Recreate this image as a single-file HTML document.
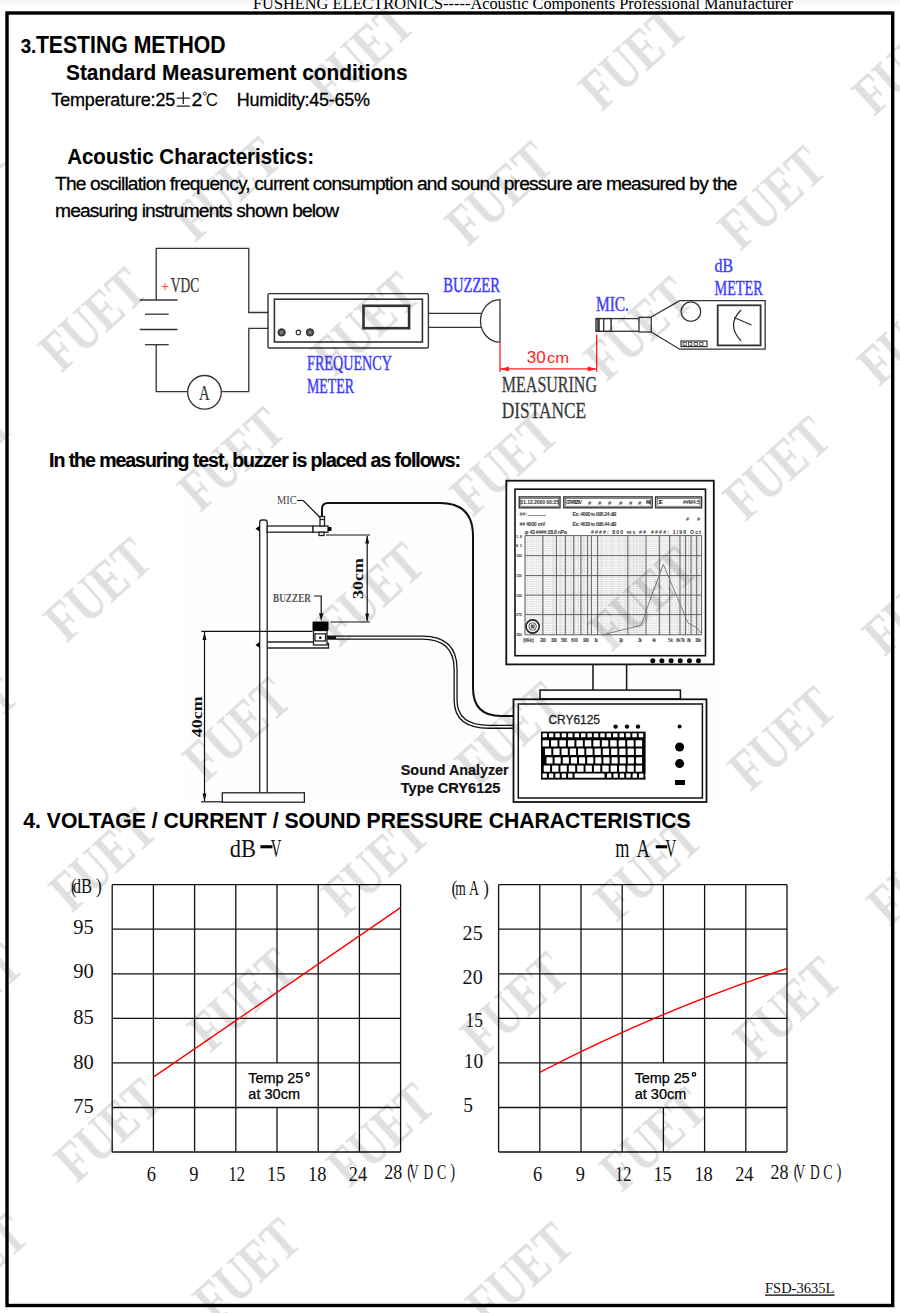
<!DOCTYPE html>
<html><head><meta charset="utf-8"><style>
html,body{margin:0;padding:0;background:#fff;width:900px;height:1313px;overflow:hidden}
svg{display:block}
</style></head><body>
<svg width="900" height="1313" viewBox="0 0 900 1313">
<rect x="0" y="0" width="900" height="1313" fill="#fff"/>
<rect x="0" y="0" width="900" height="4.5" fill="#f6f6f6"/>
<text x="253.0" y="9.2" font-family="'Liberation Serif', serif" font-size="16.5" textLength="540.0" lengthAdjust="spacingAndGlyphs" fill="#000" >FUSHENG ELECTRONICS-----Acoustic Components Professional Manufacturer</text>
<rect x="7" y="13" width="885.7" height="1292.5" fill="none" stroke="#000" stroke-width="3.4"/>
<text x="20.7" y="53.0" font-family="'Liberation Sans', sans-serif" font-size="19.5" font-weight="bold" textLength="15.6" lengthAdjust="spacingAndGlyphs" fill="#000"  stroke="#000" stroke-width="0.15">3.</text>
<text x="35.9" y="53.0" font-family="'Liberation Sans', sans-serif" font-size="23" font-weight="bold" textLength="189.6" lengthAdjust="spacingAndGlyphs" fill="#000"  stroke="#000" stroke-width="0.1">TESTING METHOD</text>
<text x="66.0" y="79.7" font-family="'Liberation Sans', sans-serif" font-size="22" font-weight="bold" textLength="341.5" lengthAdjust="spacingAndGlyphs" fill="#000"  stroke="#000" stroke-width="0.1">Standard Measurement conditions</text>
<text x="51.3" y="106.3" font-family="'Liberation Sans', sans-serif" font-size="18" textLength="124.0" lengthAdjust="spacing" fill="#000"  stroke="#000" stroke-width="0.3">Temperature:25</text>
<path d="M183.3,91.8 V104 M176.8,98.2 H189.8 M176.8,106.2 H189.8" stroke="#222" stroke-width="1.3" fill="none"/>
<text x="191.6" y="106.3" font-family="'Liberation Sans', sans-serif" font-size="18" textLength="10.8" lengthAdjust="spacingAndGlyphs" fill="#000"  stroke="#000" stroke-width="0.3">2</text>
<circle cx="204.8" cy="93.6" r="1.5" fill="none" stroke="#333" stroke-width="0.9"/>
<text x="205.8" y="106.3" font-family="'Liberation Sans', sans-serif" font-size="17.5" textLength="12.2" lengthAdjust="spacingAndGlyphs" fill="#111" >C</text>
<text x="236.8" y="106.3" font-family="'Liberation Sans', sans-serif" font-size="18" textLength="133.2" lengthAdjust="spacing" fill="#000"  stroke="#000" stroke-width="0.3">Humidity:45-65%</text>
<text x="67.2" y="164.0" font-family="'Liberation Sans', sans-serif" font-size="22" font-weight="bold" textLength="247.0" lengthAdjust="spacingAndGlyphs" fill="#000"  stroke="#000" stroke-width="0.1">Acoustic Characteristics:</text>
<text x="55.0" y="190.3" font-family="'Liberation Sans', sans-serif" font-size="19.2" textLength="682.5" lengthAdjust="spacing" fill="#000"  stroke="#000" stroke-width="0.3">The oscillation frequency, current consumption and sound pressure are measured by the</text>
<text x="55.0" y="217.0" font-family="'Liberation Sans', sans-serif" font-size="19.2" textLength="284.0" lengthAdjust="spacing" fill="#000"  stroke="#000" stroke-width="0.3">measuring instruments shown below</text>
<text x="49.0" y="467.3" font-family="'Liberation Sans', sans-serif" font-size="19.5" font-weight="bold" textLength="412.0" lengthAdjust="spacing" fill="#000"  stroke="#000" stroke-width="0.2">In the measuring test, buzzer is placed as follows:</text>
<text x="23.3" y="828.0" font-family="'Liberation Sans', sans-serif" font-size="22" font-weight="bold" textLength="667.4" lengthAdjust="spacingAndGlyphs" fill="#000"  stroke="#000" stroke-width="0.1">4. VOLTAGE / CURRENT / SOUND PRESSURE CHARACTERISTICS</text>
<g stroke="#333" stroke-width="1.3" fill="none">
<polyline points="156.2,300 156.2,248.3 248.8,248.3 248.8,312.5 268.3,312.5"/>
<polyline points="268.3,328.3 248.8,328.3 248.8,391.7 221.3,391.7"/>
<polyline points="187.8,391.7 156.2,391.7 156.2,344.7"/>
<circle cx="204.5" cy="392.3" r="16.8"/>
<line x1="139.7" y1="300" x2="177.5" y2="300"/>
<line x1="145" y1="314.2" x2="168.7" y2="314.2"/>
<line x1="139.7" y1="329.5" x2="177.5" y2="329.5"/>
<line x1="145" y1="344.7" x2="168.7" y2="344.7"/>
</g>
<text x="160.8" y="290.5" font-family="'Liberation Serif', serif" font-size="15" textLength="8.5" lengthAdjust="spacingAndGlyphs" fill="#f22" >+</text>
<text x="170.8" y="291.7" font-family="'Liberation Serif', serif" font-size="21" textLength="28.4" lengthAdjust="spacingAndGlyphs" fill="#333"  stroke="#333" stroke-width="0.25">VDC</text>
<text x="199.0" y="400.0" font-family="'Liberation Serif', serif" font-size="22" textLength="10.7" lengthAdjust="spacingAndGlyphs" fill="#333"  stroke="#333" stroke-width="0.2">A</text>
<g stroke="#333" fill="none">
<rect x="268" y="293.6" width="160.4" height="54.4" rx="1.5" stroke-width="1.4"/>
<rect x="274.4" y="299.2" width="148" height="42.8" stroke-width="1.6"/>
<rect x="363.5" y="305.8" width="45.6" height="22.4" stroke-width="2.6"/>
<circle cx="281.6" cy="332.4" r="3.7" fill="#444" stroke-width="1"/>
<circle cx="298.4" cy="332.4" r="2.2" stroke-width="1.2"/>
<circle cx="310" cy="332.4" r="3.7" fill="#444" stroke-width="1"/>
<path d="M280,330.8 l3.2,3.2 M283.2,330.8 l-3.2,3.2 M308.4,330.8 l3.2,3.2 M311.6,330.8 l-3.2,3.2" stroke="#bbb" stroke-width="0.8"/>
</g>
<text x="307.0" y="370.2" font-family="'Liberation Serif', serif" font-size="22" textLength="85.0" lengthAdjust="spacingAndGlyphs" fill="#3c3cff"  stroke="#3c3cff" stroke-width="0.45">FREQUENCY</text>
<text x="307.0" y="392.6" font-family="'Liberation Serif', serif" font-size="21" textLength="47.0" lengthAdjust="spacingAndGlyphs" fill="#3c3cff"  stroke="#3c3cff" stroke-width="0.45">METER</text>
<g stroke="#333" stroke-width="1.3" fill="none">
<line x1="428.4" y1="313.3" x2="481.1" y2="313.3"/>
<line x1="428.4" y1="327.3" x2="481.1" y2="327.3"/>
<path d="M500,299.6 A19.5,21.3 0 0 0 500,342.2 Z"/>
</g>
<text x="443.3" y="291.8" font-family="'Liberation Serif', serif" font-size="20.5" textLength="56.7" lengthAdjust="spacingAndGlyphs" fill="#3c3cff"  stroke="#3c3cff" stroke-width="0.45">BUZZER</text>
<g stroke="#f22" stroke-width="1.3" fill="none">
<line x1="500" y1="342" x2="500" y2="372"/>
<line x1="596.7" y1="334.4" x2="596.7" y2="372"/>
<line x1="500" y1="368.9" x2="596.7" y2="368.9"/>
</g>
<path d="M500,368.9 l9,-2.5 l0,5 z M596.7,368.9 l-9,-2.5 l0,5 z" fill="#f22"/>
<text x="526.7" y="363.3" font-family="'Liberation Sans', sans-serif" font-size="17" textLength="19.0" lengthAdjust="spacingAndGlyphs" fill="#f22" >30</text>
<text x="547.0" y="363.3" font-family="'Liberation Sans', sans-serif" font-size="14" textLength="22.3" lengthAdjust="spacingAndGlyphs" fill="#f22" >cm</text>
<text x="501.8" y="392.3" font-family="'Liberation Serif', serif" font-size="22.5" textLength="95.2" lengthAdjust="spacingAndGlyphs" fill="#3a3a3a"  stroke="#3a3a3a" stroke-width="0.3">MEASURING</text>
<text x="501.8" y="418.3" font-family="'Liberation Serif', serif" font-size="22.5" textLength="84.4" lengthAdjust="spacingAndGlyphs" fill="#3a3a3a"  stroke="#3a3a3a" stroke-width="0.3">DISTANCE</text>
<g stroke="#333" stroke-width="1.3" fill="none">
<rect x="596" y="318.6" width="15.1" height="12.7" stroke-width="1.5"/>
<line x1="603.7" y1="318.6" x2="603.7" y2="331.3"/>
<line x1="598.5" y1="318.6" x2="598.5" y2="331.3" stroke-width="2.5"/>
<line x1="611" y1="318.6" x2="639" y2="318.6"/>
<line x1="611" y1="331.3" x2="639" y2="331.3"/>
<rect x="639" y="317.3" width="12.2" height="14.7"/>
<path d="M651.2,317 L679.7,300.7 L765.2,300.7 L765.2,349.2 L679.7,349.2 L651.2,332"/>
<circle cx="690.9" cy="311.6" r="9.8"/>
<rect x="717.7" y="305.3" width="42.9" height="40.1" stroke-width="1.8"/>
<path d="M741,310 Q726,325 741,340.8"/>
<line x1="734" y1="317.5" x2="751.5" y2="325"/>
<rect x="681" y="341" width="26" height="5.6" stroke-width="1.2"/>
</g>
<g fill="#333">
<rect x="683.0" y="342.5" width="3.2" height="2.8" fill="#fff" stroke="#333" stroke-width="0.8"/>
<rect x="688.6" y="342.5" width="3.2" height="2.8" fill="#fff" stroke="#333" stroke-width="0.8"/>
<rect x="694.2" y="342.5" width="3.2" height="2.8" fill="#fff" stroke="#333" stroke-width="0.8"/>
<rect x="699.8" y="342.5" width="3.2" height="2.8" fill="#fff" stroke="#333" stroke-width="0.8"/>
</g>
<text x="595.9" y="310.8" font-family="'Liberation Serif', serif" font-size="20.5" textLength="33.1" lengthAdjust="spacingAndGlyphs" fill="#3c3cff"  stroke="#3c3cff" stroke-width="0.4">MIC.</text>
<text x="714.5" y="272.2" font-family="'Liberation Serif', serif" font-size="18.5" textLength="18.6" lengthAdjust="spacingAndGlyphs" fill="#3c3cff"  stroke="#3c3cff" stroke-width="0.4">dB</text>
<text x="714.5" y="295.4" font-family="'Liberation Serif', serif" font-size="20.5" textLength="48.2" lengthAdjust="spacingAndGlyphs" fill="#3c3cff"  stroke="#3c3cff" stroke-width="0.4">METER</text>
<rect x="182" y="478" width="538" height="328" fill="#fefefe"/>
<path d="M322,517 L322,509 Q322,503 328,503 L440,503 Q473,503 473,536 L473,688 Q473,716 501,716 L514,716" stroke="#111" stroke-width="2" fill="none"/>
<path d="M327,637.6 L422,637.6 Q455.6,637.6 455.6,669 L455.6,700 Q455.6,726.8 489,726.8 L514,726.8" stroke="#111" stroke-width="4.2" fill="none"/>
<path d="M336,637.6 L422,637.6 Q455.6,637.6 455.6,669 L455.6,700 Q455.6,726.8 489,726.8 L514,726.8" stroke="#fff" stroke-width="1.6" fill="none"/>
<g stroke="#222" stroke-width="1.3" fill="#fff">
<path d="M259.7,792.8 L259.7,522.5 Q259.7,520 262,520 L264.8,520 Q267.2,520 267.2,522.5 L267.2,792.8"/>
<rect x="222.3" y="792.8" width="82.1" height="9.4"/>
<rect x="267.2" y="526" width="45.8" height="6.2"/>
<rect x="313" y="526" width="15" height="6.2"/>
<rect x="320" y="516.5" width="4.5" height="9.5"/>
<line x1="320" y1="519.5" x2="324.5" y2="519.5"/>
<rect x="319" y="532.2" width="5" height="3.3"/>
<path d="M267.2,642 L313.5,642 M267.2,648 L328.5,648 L328.5,643.5 L313.5,643.5"/>
<rect x="313.5" y="630.5" width="13.5" height="14.5"/>
<rect x="315" y="633.8" width="10.5" height="7.2"/>
</g>
<rect x="312.5" y="621.5" width="16" height="9.2" rx="1" fill="#000"/>
<circle cx="320.3" cy="637.8" r="1.3" fill="#000"/>
<rect x="328" y="527" width="3.5" height="4" fill="#000"/>
<path d="M255.5,528.8 L259.7,525.8 L259.7,531.8 Z M255.5,645 L259.7,642 L259.7,648 Z" fill="#000"/>
<g stroke="#111" stroke-width="1.2" fill="none">
<line x1="326" y1="535" x2="370" y2="535"/>
<line x1="330.5" y1="622" x2="370" y2="622"/>
<line x1="367.2" y1="536" x2="367.2" y2="621"/>
<line x1="201.3" y1="631.4" x2="312.5" y2="631.4"/>
<line x1="201.3" y1="801.8" x2="222.3" y2="801.8"/>
<line x1="204.5" y1="632" x2="204.5" y2="801"/>
<polyline points="297,500.5 303.3,500.5 320,517.5"/>
<polyline points="314,596 321.2,596 321.2,614"/>
</g>
<path d="M367.2,535.5 l-2,8 l4,0 z M367.2,621.5 l-2,-8 l4,0 z M204.5,632 l-2,8 l4,0 z M204.5,801.5 l-2,-8 l4,0 z M321.2,621.3 l-2.2,-8 l4.4,0 z" fill="#111"/>
<text x="277" y="504.4" font-family="'Liberation Serif', serif" font-size="12" textLength="19.7" lengthAdjust="spacingAndGlyphs" fill="#444">MIC</text>
<text x="273" y="601.5" font-family="'Liberation Serif', serif" font-size="12.5" font-weight="bold" textLength="38" lengthAdjust="spacingAndGlyphs" fill="#555">BUZZER</text>
<text transform="translate(363.3,598.9) rotate(-90)" x="0" y="0" font-family="'Liberation Serif', serif" font-size="15" font-weight="bold" textLength="41" lengthAdjust="spacingAndGlyphs" fill="#111">30cm</text>
<text transform="translate(201.7,737.3) rotate(-90)" x="0" y="0" font-family="'Liberation Serif', serif" font-size="15" font-weight="bold" textLength="41" lengthAdjust="spacingAndGlyphs" fill="#111">40cm</text>
<text x="400.8" y="775.2" font-family="'Liberation Sans', sans-serif" font-size="14.5" font-weight="bold" textLength="107.9" lengthAdjust="spacingAndGlyphs" stroke="#111" stroke-width="0.2" fill="#111">Sound Analyzer</text>
<text x="400.8" y="792.6" font-family="'Liberation Sans', sans-serif" font-size="14.5" font-weight="bold" textLength="99.7" lengthAdjust="spacingAndGlyphs" stroke="#111" stroke-width="0.2" fill="#111">Type CRY6125</text>
<g stroke="#111" fill="#fff">
<rect x="506.3" y="480.7" width="207.5" height="183.7" stroke-width="1.8"/>
<rect x="515" y="489.2" width="190.5" height="166.5" stroke-width="1.6"/>
<line x1="593" y1="664.4" x2="593" y2="690.1" stroke-width="1.5"/>
<line x1="626.6" y1="664.4" x2="626.6" y2="690.1" stroke-width="1.5"/>
<rect x="540" y="690.1" width="140.4" height="8.8" stroke-width="1.5"/>
<rect x="513.5" y="699.3" width="193" height="102.7" stroke-width="1.8"/>
<rect x="518.3" y="704" width="184.1" height="94" stroke-width="1.5"/>
</g>
<circle cx="652.8" cy="660.8" r="2.5" fill="#000"/>
<circle cx="661.9" cy="660.8" r="2.5" fill="#000"/>
<circle cx="671.1" cy="660.8" r="2.5" fill="#000"/>
<circle cx="680.2" cy="660.8" r="2.5" fill="#000"/>
<circle cx="689.4" cy="660.8" r="2.5" fill="#000"/>
<circle cx="698.5" cy="660.8" r="2.5" fill="#000"/>
<g stroke="#333" fill="none">
<rect x="519.2" y="496.9" width="40.8" height="10.9" stroke-width="1.4"/>
<rect x="520.8" y="498.5" width="37.6" height="7.7" stroke-width="0.6"/>
<rect x="563.8" y="496.9" width="88.4" height="10.9" stroke-width="1.4"/>
<rect x="565.4" y="498.5" width="85.2" height="7.7" stroke-width="0.6"/>
<rect x="655.6" y="496.9" width="46.0" height="10.9" stroke-width="1.4"/>
<rect x="657.2" y="498.5" width="42.8" height="7.7" stroke-width="0.6"/>
</g>
<text x="520.5" y="504.3" font-family="'Liberation Sans', sans-serif" font-size="5.2" font-weight="bold" textLength="38.5" lengthAdjust="spacing" fill="#333">01.12.2000 00:25</text>
<text x="566" y="504.3" font-family="'Liberation Sans', sans-serif" font-size="5.2" font-weight="bold" textLength="16" lengthAdjust="spacing" fill="#333">CRY6125V</text>
<text x="588" y="504.8" font-family="'Liberation Sans', sans-serif" font-size="6" font-weight="bold" textLength="3.5" lengthAdjust="spacing" fill="#444">#</text>
<text x="598" y="504.8" font-family="'Liberation Sans', sans-serif" font-size="6" font-weight="bold" textLength="3.5" lengthAdjust="spacing" fill="#444">#</text>
<text x="608" y="504.8" font-family="'Liberation Sans', sans-serif" font-size="6" font-weight="bold" textLength="3.5" lengthAdjust="spacing" fill="#444">#</text>
<text x="619" y="504.8" font-family="'Liberation Sans', sans-serif" font-size="6" font-weight="bold" textLength="3.5" lengthAdjust="spacing" fill="#444">#</text>
<text x="629" y="504.8" font-family="'Liberation Sans', sans-serif" font-size="6" font-weight="bold" textLength="3.5" lengthAdjust="spacing" fill="#444">#</text>
<text x="638" y="504.8" font-family="'Liberation Sans', sans-serif" font-size="6" font-weight="bold" textLength="3.5" lengthAdjust="spacing" fill="#444">#</text>
<text x="646" y="504.3" font-family="'Liberation Sans', sans-serif" font-size="5.2" font-weight="bold" textLength="5" lengthAdjust="spacing" fill="#333">H%</text>
<text x="658" y="504.3" font-family="'Liberation Sans', sans-serif" font-size="5.2" font-weight="bold" textLength="5" lengthAdjust="spacing" fill="#333">1E</text>
<text x="683" y="504.3" font-family="'Liberation Sans', sans-serif" font-size="5.2" font-weight="bold" textLength="17" lengthAdjust="spacing" fill="#333">##M4:5</text>
<text x="519.5" y="515.8" font-family="'Liberation Sans', sans-serif" font-size="5.5" font-weight="bold" textLength="8" lengthAdjust="spacing" fill="#555">##:</text>
<line x1="528" y1="515.6" x2="546" y2="515.6" stroke="#555" stroke-width="0.7"/>
<text x="572.6" y="515.8" font-family="'Liberation Sans', sans-serif" font-size="5.2" font-weight="bold" textLength="44" lengthAdjust="spacing" fill="#333">Ex: 4000 to 095.24 dB</text>
<text x="519.5" y="525.8" font-family="'Liberation Sans', sans-serif" font-size="5.2" font-weight="bold" textLength="26" lengthAdjust="spacing" fill="#333">## 4000 mV</text>
<text x="572.6" y="525.8" font-family="'Liberation Sans', sans-serif" font-size="5.2" font-weight="bold" textLength="44" lengthAdjust="spacing" fill="#333">Ex: 4010 to 095.44 dB</text>
<text x="686" y="521" font-family="'Liberation Sans', sans-serif" font-size="5.5" font-weight="bold" textLength="14" lengthAdjust="spacing" fill="#444">#  #</text>
<text x="524.8" y="534" font-family="'Liberation Sans', sans-serif" font-size="5.2" font-weight="bold" textLength="42" lengthAdjust="spacing" fill="#333">φ 43 ####:28.8 nPa</text>
<text x="591" y="534" font-family="'Liberation Sans', sans-serif" font-size="5.2" font-weight="bold" textLength="55" lengthAdjust="spacing" fill="#333">####: 800 ms ##</text>
<text x="651" y="534" font-family="'Liberation Sans', sans-serif" font-size="5.2" font-weight="bold" textLength="50" lengthAdjust="spacing" fill="#333">####: 1/96 Oct</text>
<g stroke="#c8c8c8" stroke-width="0.5">
<line x1="525" y1="535.6" x2="701.6" y2="535.6"/>
<line x1="525" y1="537.8" x2="701.6" y2="537.8"/>
<line x1="525" y1="540.0" x2="701.6" y2="540.0"/>
<line x1="525" y1="542.2" x2="701.6" y2="542.2"/>
<line x1="525" y1="544.4" x2="701.6" y2="544.4"/>
<line x1="525" y1="546.6" x2="701.6" y2="546.6"/>
<line x1="525" y1="548.8" x2="701.6" y2="548.8"/>
<line x1="525" y1="551.0" x2="701.6" y2="551.0"/>
<line x1="525" y1="553.2" x2="701.6" y2="553.2"/>
<line x1="525" y1="555.4" x2="701.6" y2="555.4"/>
<line x1="525" y1="557.6" x2="701.6" y2="557.6"/>
<line x1="525" y1="559.8" x2="701.6" y2="559.8"/>
<line x1="525" y1="562.0" x2="701.6" y2="562.0"/>
<line x1="525" y1="564.2" x2="701.6" y2="564.2"/>
<line x1="525" y1="566.4" x2="701.6" y2="566.4"/>
<line x1="525" y1="568.6" x2="701.6" y2="568.6"/>
<line x1="525" y1="570.8" x2="701.6" y2="570.8"/>
<line x1="525" y1="573.0" x2="701.6" y2="573.0"/>
<line x1="525" y1="575.2" x2="701.6" y2="575.2"/>
<line x1="525" y1="577.4" x2="701.6" y2="577.4"/>
<line x1="525" y1="579.6" x2="701.6" y2="579.6"/>
<line x1="525" y1="581.8" x2="701.6" y2="581.8"/>
<line x1="525" y1="584.0" x2="701.6" y2="584.0"/>
<line x1="525" y1="586.2" x2="701.6" y2="586.2"/>
<line x1="525" y1="588.4" x2="701.6" y2="588.4"/>
<line x1="525" y1="590.6" x2="701.6" y2="590.6"/>
<line x1="525" y1="592.8" x2="701.6" y2="592.8"/>
<line x1="525" y1="595.0" x2="701.6" y2="595.0"/>
<line x1="525" y1="597.2" x2="701.6" y2="597.2"/>
<line x1="525" y1="599.4" x2="701.6" y2="599.4"/>
<line x1="525" y1="601.6" x2="701.6" y2="601.6"/>
<line x1="525" y1="603.8" x2="701.6" y2="603.8"/>
<line x1="525" y1="606.0" x2="701.6" y2="606.0"/>
<line x1="525" y1="608.2" x2="701.6" y2="608.2"/>
<line x1="525" y1="610.4" x2="701.6" y2="610.4"/>
<line x1="525" y1="612.6" x2="701.6" y2="612.6"/>
<line x1="525" y1="614.8" x2="701.6" y2="614.8"/>
<line x1="525" y1="617.0" x2="701.6" y2="617.0"/>
<line x1="525" y1="619.2" x2="701.6" y2="619.2"/>
<line x1="525" y1="621.4" x2="701.6" y2="621.4"/>
<line x1="525" y1="623.6" x2="701.6" y2="623.6"/>
<line x1="525" y1="625.8" x2="701.6" y2="625.8"/>
<line x1="525" y1="628.0" x2="701.6" y2="628.0"/>
<line x1="525" y1="630.2" x2="701.6" y2="630.2"/>
<line x1="525" y1="632.4" x2="701.6" y2="632.4"/>
<line x1="525" y1="634.6" x2="701.6" y2="634.6"/>
<line x1="525.0" y1="535.6" x2="525.0" y2="634.8"/>
<line x1="542.7" y1="535.6" x2="542.7" y2="634.8"/>
<line x1="553.1" y1="535.6" x2="553.1" y2="634.8"/>
<line x1="560.4" y1="535.6" x2="560.4" y2="634.8"/>
<line x1="566.1" y1="535.6" x2="566.1" y2="634.8"/>
<line x1="570.8" y1="535.6" x2="570.8" y2="634.8"/>
<line x1="574.7" y1="535.6" x2="574.7" y2="634.8"/>
<line x1="578.2" y1="535.6" x2="578.2" y2="634.8"/>
<line x1="581.2" y1="535.6" x2="581.2" y2="634.8"/>
<line x1="583.9" y1="535.6" x2="583.9" y2="634.8"/>
<line x1="601.6" y1="535.6" x2="601.6" y2="634.8"/>
<line x1="612.0" y1="535.6" x2="612.0" y2="634.8"/>
<line x1="619.3" y1="535.6" x2="619.3" y2="634.8"/>
<line x1="625.0" y1="535.6" x2="625.0" y2="634.8"/>
<line x1="629.7" y1="535.6" x2="629.7" y2="634.8"/>
<line x1="633.6" y1="535.6" x2="633.6" y2="634.8"/>
<line x1="637.0" y1="535.6" x2="637.0" y2="634.8"/>
<line x1="640.0" y1="535.6" x2="640.0" y2="634.8"/>
<line x1="642.7" y1="535.6" x2="642.7" y2="634.8"/>
<line x1="660.5" y1="535.6" x2="660.5" y2="634.8"/>
<line x1="670.8" y1="535.6" x2="670.8" y2="634.8"/>
<line x1="678.2" y1="535.6" x2="678.2" y2="634.8"/>
<line x1="683.9" y1="535.6" x2="683.9" y2="634.8"/>
<line x1="688.5" y1="535.6" x2="688.5" y2="634.8"/>
<line x1="692.5" y1="535.6" x2="692.5" y2="634.8"/>
<line x1="695.9" y1="535.6" x2="695.9" y2="634.8"/>
<line x1="698.9" y1="535.6" x2="698.9" y2="634.8"/>
<line x1="525.0" y1="535.6" x2="525.0" y2="634.8" stroke="#ddd"/>
<line x1="527.3" y1="535.6" x2="527.3" y2="634.8" stroke="#ddd"/>
<line x1="529.6" y1="535.6" x2="529.6" y2="634.8" stroke="#ddd"/>
<line x1="531.9" y1="535.6" x2="531.9" y2="634.8" stroke="#ddd"/>
<line x1="534.2" y1="535.6" x2="534.2" y2="634.8" stroke="#ddd"/>
<line x1="536.5" y1="535.6" x2="536.5" y2="634.8" stroke="#ddd"/>
<line x1="538.8" y1="535.6" x2="538.8" y2="634.8" stroke="#ddd"/>
<line x1="541.1" y1="535.6" x2="541.1" y2="634.8" stroke="#ddd"/>
<line x1="543.4" y1="535.6" x2="543.4" y2="634.8" stroke="#ddd"/>
<line x1="545.7" y1="535.6" x2="545.7" y2="634.8" stroke="#ddd"/>
<line x1="548.0" y1="535.6" x2="548.0" y2="634.8" stroke="#ddd"/>
<line x1="550.3" y1="535.6" x2="550.3" y2="634.8" stroke="#ddd"/>
<line x1="552.6" y1="535.6" x2="552.6" y2="634.8" stroke="#ddd"/>
<line x1="554.9" y1="535.6" x2="554.9" y2="634.8" stroke="#ddd"/>
<line x1="557.2" y1="535.6" x2="557.2" y2="634.8" stroke="#ddd"/>
<line x1="559.5" y1="535.6" x2="559.5" y2="634.8" stroke="#ddd"/>
<line x1="561.8" y1="535.6" x2="561.8" y2="634.8" stroke="#ddd"/>
<line x1="564.1" y1="535.6" x2="564.1" y2="634.8" stroke="#ddd"/>
<line x1="566.4" y1="535.6" x2="566.4" y2="634.8" stroke="#ddd"/>
<line x1="568.7" y1="535.6" x2="568.7" y2="634.8" stroke="#ddd"/>
<line x1="571.0" y1="535.6" x2="571.0" y2="634.8" stroke="#ddd"/>
<line x1="573.3" y1="535.6" x2="573.3" y2="634.8" stroke="#ddd"/>
<line x1="575.6" y1="535.6" x2="575.6" y2="634.8" stroke="#ddd"/>
<line x1="577.9" y1="535.6" x2="577.9" y2="634.8" stroke="#ddd"/>
<line x1="580.2" y1="535.6" x2="580.2" y2="634.8" stroke="#ddd"/>
<line x1="582.5" y1="535.6" x2="582.5" y2="634.8" stroke="#ddd"/>
<line x1="584.8" y1="535.6" x2="584.8" y2="634.8" stroke="#ddd"/>
<line x1="587.1" y1="535.6" x2="587.1" y2="634.8" stroke="#ddd"/>
<line x1="589.4" y1="535.6" x2="589.4" y2="634.8" stroke="#ddd"/>
<line x1="591.7" y1="535.6" x2="591.7" y2="634.8" stroke="#ddd"/>
<line x1="594.0" y1="535.6" x2="594.0" y2="634.8" stroke="#ddd"/>
<line x1="596.3" y1="535.6" x2="596.3" y2="634.8" stroke="#ddd"/>
<line x1="598.6" y1="535.6" x2="598.6" y2="634.8" stroke="#ddd"/>
<line x1="600.9" y1="535.6" x2="600.9" y2="634.8" stroke="#ddd"/>
<line x1="603.2" y1="535.6" x2="603.2" y2="634.8" stroke="#ddd"/>
<line x1="605.5" y1="535.6" x2="605.5" y2="634.8" stroke="#ddd"/>
<line x1="607.8" y1="535.6" x2="607.8" y2="634.8" stroke="#ddd"/>
<line x1="610.1" y1="535.6" x2="610.1" y2="634.8" stroke="#ddd"/>
<line x1="612.4" y1="535.6" x2="612.4" y2="634.8" stroke="#ddd"/>
<line x1="614.7" y1="535.6" x2="614.7" y2="634.8" stroke="#ddd"/>
<line x1="617.0" y1="535.6" x2="617.0" y2="634.8" stroke="#ddd"/>
<line x1="619.3" y1="535.6" x2="619.3" y2="634.8" stroke="#ddd"/>
<line x1="621.6" y1="535.6" x2="621.6" y2="634.8" stroke="#ddd"/>
<line x1="623.9" y1="535.6" x2="623.9" y2="634.8" stroke="#ddd"/>
<line x1="626.2" y1="535.6" x2="626.2" y2="634.8" stroke="#ddd"/>
<line x1="628.5" y1="535.6" x2="628.5" y2="634.8" stroke="#ddd"/>
<line x1="630.8" y1="535.6" x2="630.8" y2="634.8" stroke="#ddd"/>
<line x1="633.1" y1="535.6" x2="633.1" y2="634.8" stroke="#ddd"/>
<line x1="635.4" y1="535.6" x2="635.4" y2="634.8" stroke="#ddd"/>
<line x1="637.7" y1="535.6" x2="637.7" y2="634.8" stroke="#ddd"/>
<line x1="640.0" y1="535.6" x2="640.0" y2="634.8" stroke="#ddd"/>
<line x1="642.3" y1="535.6" x2="642.3" y2="634.8" stroke="#ddd"/>
<line x1="644.6" y1="535.6" x2="644.6" y2="634.8" stroke="#ddd"/>
<line x1="646.9" y1="535.6" x2="646.9" y2="634.8" stroke="#ddd"/>
<line x1="649.2" y1="535.6" x2="649.2" y2="634.8" stroke="#ddd"/>
<line x1="651.5" y1="535.6" x2="651.5" y2="634.8" stroke="#ddd"/>
<line x1="653.8" y1="535.6" x2="653.8" y2="634.8" stroke="#ddd"/>
<line x1="656.1" y1="535.6" x2="656.1" y2="634.8" stroke="#ddd"/>
<line x1="658.4" y1="535.6" x2="658.4" y2="634.8" stroke="#ddd"/>
<line x1="660.7" y1="535.6" x2="660.7" y2="634.8" stroke="#ddd"/>
<line x1="663.0" y1="535.6" x2="663.0" y2="634.8" stroke="#ddd"/>
<line x1="665.3" y1="535.6" x2="665.3" y2="634.8" stroke="#ddd"/>
<line x1="667.6" y1="535.6" x2="667.6" y2="634.8" stroke="#ddd"/>
<line x1="669.9" y1="535.6" x2="669.9" y2="634.8" stroke="#ddd"/>
<line x1="672.2" y1="535.6" x2="672.2" y2="634.8" stroke="#ddd"/>
<line x1="674.5" y1="535.6" x2="674.5" y2="634.8" stroke="#ddd"/>
<line x1="676.8" y1="535.6" x2="676.8" y2="634.8" stroke="#ddd"/>
<line x1="679.1" y1="535.6" x2="679.1" y2="634.8" stroke="#ddd"/>
<line x1="681.4" y1="535.6" x2="681.4" y2="634.8" stroke="#ddd"/>
<line x1="683.7" y1="535.6" x2="683.7" y2="634.8" stroke="#ddd"/>
<line x1="686.0" y1="535.6" x2="686.0" y2="634.8" stroke="#ddd"/>
<line x1="688.3" y1="535.6" x2="688.3" y2="634.8" stroke="#ddd"/>
<line x1="690.6" y1="535.6" x2="690.6" y2="634.8" stroke="#ddd"/>
<line x1="692.9" y1="535.6" x2="692.9" y2="634.8" stroke="#ddd"/>
<line x1="695.2" y1="535.6" x2="695.2" y2="634.8" stroke="#ddd"/>
<line x1="697.5" y1="535.6" x2="697.5" y2="634.8" stroke="#ddd"/>
<line x1="699.8" y1="535.6" x2="699.8" y2="634.8" stroke="#ddd"/>
</g>
<g stroke="#555" stroke-width="0.9">
<line x1="525" y1="535.6" x2="701.6" y2="535.6"/>
<line x1="525" y1="555.6" x2="701.6" y2="555.6"/>
<line x1="525" y1="575.6" x2="701.6" y2="575.6"/>
<line x1="525" y1="595.1" x2="701.6" y2="595.1"/>
<line x1="525" y1="614.6" x2="701.6" y2="614.6"/>
<line x1="525" y1="634.8" x2="701.6" y2="634.8"/>
<line x1="525" y1="535.6" x2="525" y2="634.8"/>
<line x1="542.9" y1="535.6" x2="542.9" y2="634.8"/>
<line x1="556.4" y1="535.6" x2="556.4" y2="634.8"/>
<line x1="565.3" y1="535.6" x2="565.3" y2="634.8"/>
<line x1="573.7" y1="535.6" x2="573.7" y2="634.8"/>
<line x1="580.9" y1="535.6" x2="580.9" y2="634.8"/>
<line x1="587.6" y1="535.6" x2="587.6" y2="634.8"/>
<line x1="591.4" y1="535.6" x2="591.4" y2="634.8"/>
<line x1="597.6" y1="535.6" x2="597.6" y2="634.8"/>
<line x1="627.8" y1="535.6" x2="627.8" y2="634.8"/>
<line x1="646" y1="535.6" x2="646" y2="634.8"/>
<line x1="659.3" y1="535.6" x2="659.3" y2="634.8"/>
<line x1="669.6" y1="535.6" x2="669.6" y2="634.8"/>
<line x1="680" y1="535.6" x2="680" y2="634.8"/>
<line x1="685.6" y1="535.6" x2="685.6" y2="634.8"/>
<line x1="691" y1="535.6" x2="691" y2="634.8"/>
<line x1="696.7" y1="535.6" x2="696.7" y2="634.8"/>
<line x1="701.6" y1="535.6" x2="701.6" y2="634.8"/>
</g>
<path d="M606,634 L618,631 L630,628 L641,625.5 L650,600 L663.3,564.5 L672,585 L688,623 L697,627.8 L701,633" stroke="#777" stroke-width="0.9" fill="none"/>
<circle cx="532.6" cy="626.5" r="6.6" fill="#fff" stroke="#222" stroke-width="1.6"/>
<circle cx="532.6" cy="626.5" r="3.8" fill="none" stroke="#555" stroke-width="1"/>
<rect x="530.6" y="624.5" width="4" height="4" fill="#666"/>
<text x="523" y="641.8" font-family="'Liberation Sans', sans-serif" font-size="4.5" font-weight="bold" textLength="11" lengthAdjust="spacing" fill="#444">(MHz)</text>
<text x="540" y="641.8" font-family="'Liberation Sans', sans-serif" font-size="4.5" font-weight="bold" textLength="6" lengthAdjust="spacing" fill="#444">200</text>
<text x="551" y="641.8" font-family="'Liberation Sans', sans-serif" font-size="4.5" font-weight="bold" textLength="6" lengthAdjust="spacing" fill="#444">300</text>
<text x="561" y="641.8" font-family="'Liberation Sans', sans-serif" font-size="4.5" font-weight="bold" textLength="6" lengthAdjust="spacing" fill="#444">500</text>
<text x="571" y="641.8" font-family="'Liberation Sans', sans-serif" font-size="4.5" font-weight="bold" textLength="7" lengthAdjust="spacing" fill="#444">600</text>
<text x="583" y="641.8" font-family="'Liberation Sans', sans-serif" font-size="4.5" font-weight="bold" textLength="6" lengthAdjust="spacing" fill="#444">900</text>
<text x="594" y="641.8" font-family="'Liberation Sans', sans-serif" font-size="4.5" font-weight="bold" textLength="4" lengthAdjust="spacing" fill="#444">1k</text>
<text x="619" y="641.8" font-family="'Liberation Sans', sans-serif" font-size="4.5" font-weight="bold" textLength="4" lengthAdjust="spacing" fill="#444">2k</text>
<text x="638" y="641.8" font-family="'Liberation Sans', sans-serif" font-size="4.5" font-weight="bold" textLength="4" lengthAdjust="spacing" fill="#444">3k</text>
<text x="652" y="641.8" font-family="'Liberation Sans', sans-serif" font-size="4.5" font-weight="bold" textLength="4" lengthAdjust="spacing" fill="#444">4k</text>
<text x="668" y="641.8" font-family="'Liberation Sans', sans-serif" font-size="4.5" font-weight="bold" textLength="5" lengthAdjust="spacing" fill="#444">5k</text>
<text x="676" y="641.8" font-family="'Liberation Sans', sans-serif" font-size="4.5" font-weight="bold" textLength="9" lengthAdjust="spacing" fill="#444">6k 7k</text>
<text x="687" y="641.8" font-family="'Liberation Sans', sans-serif" font-size="4.5" font-weight="bold" textLength="4" lengthAdjust="spacing" fill="#444">8k</text>
<text x="695" y="641.8" font-family="'Liberation Sans', sans-serif" font-size="4.5" font-weight="bold" textLength="6" lengthAdjust="spacing" fill="#444">10k</text>
<text x="516" y="538" font-family="'Liberation Sans', sans-serif" font-size="4" font-weight="bold" textLength="6" lengthAdjust="spacing" fill="#444">1.8</text>
<text x="516" y="547" font-family="'Liberation Sans', sans-serif" font-size="4" font-weight="bold" textLength="6" lengthAdjust="spacing" fill="#444">83</text>
<text x="516" y="557" font-family="'Liberation Sans', sans-serif" font-size="4" font-weight="bold" textLength="6" lengthAdjust="spacing" fill="#444">100</text>
<text x="516" y="577" font-family="'Liberation Sans', sans-serif" font-size="4" font-weight="bold" textLength="6" lengthAdjust="spacing" fill="#444">150</text>
<text x="516" y="597" font-family="'Liberation Sans', sans-serif" font-size="4" font-weight="bold" textLength="6" lengthAdjust="spacing" fill="#444">200</text>
<text x="516" y="616" font-family="'Liberation Sans', sans-serif" font-size="4" font-weight="bold" textLength="6" lengthAdjust="spacing" fill="#444">275</text>
<text x="516" y="636" font-family="'Liberation Sans', sans-serif" font-size="4" font-weight="bold" textLength="6" lengthAdjust="spacing" fill="#444">35.0</text>
<text x="548.4" y="723.6" font-family="'Liberation Sans', sans-serif" font-size="13" textLength="51.6" lengthAdjust="spacingAndGlyphs" fill="#222" stroke="#222" stroke-width="0.3">CRY6125</text>
<circle cx="615.6" cy="726.6" r="2.2" fill="#000"/>
<circle cx="627" cy="726.6" r="2.2" fill="#000"/>
<circle cx="638" cy="726.6" r="2.2" fill="#000"/>
<circle cx="679.6" cy="726.6" r="2" fill="#000"/>
<circle cx="679.6" cy="747" r="4.5" fill="#000"/>
<circle cx="679.6" cy="763.6" r="4.5" fill="#000"/>
<rect x="675" y="780" width="10" height="5" fill="#000"/>
<rect x="541" y="731.6" width="104.6" height="48.0" fill="#000"/>
<g fill="#fff">
<rect x="542.5" y="733.2" width="4.5" height="4" rx="0.5"/>
<rect x="548.9" y="733.2" width="4.5" height="4" rx="0.5"/>
<rect x="555.3" y="733.2" width="4.5" height="4" rx="0.5"/>
<rect x="561.7" y="733.2" width="4.5" height="4" rx="0.5"/>
<rect x="568.1" y="733.2" width="4.5" height="4" rx="0.5"/>
<rect x="574.6" y="733.2" width="4.5" height="4" rx="0.5"/>
<rect x="581.0" y="733.2" width="4.5" height="4" rx="0.5"/>
<rect x="587.4" y="733.2" width="4.5" height="4" rx="0.5"/>
<rect x="593.8" y="733.2" width="4.5" height="4" rx="0.5"/>
<rect x="600.2" y="733.2" width="4.5" height="4" rx="0.5"/>
<rect x="606.6" y="733.2" width="4.5" height="4" rx="0.5"/>
<rect x="613.0" y="733.2" width="4.5" height="4" rx="0.5"/>
<rect x="619.5" y="733.2" width="4.5" height="4" rx="0.5"/>
<rect x="625.9" y="733.2" width="4.5" height="4" rx="0.5"/>
<rect x="632.3" y="733.2" width="4.5" height="4" rx="0.5"/>
<rect x="638.7" y="733.2" width="4.5" height="4" rx="0.5"/>
<rect x="542.5" y="740.3" width="6.5" height="6.2" rx="0.5"/>
<rect x="551.0" y="740.3" width="6.5" height="6.2" rx="0.5"/>
<rect x="559.4" y="740.3" width="6.5" height="6.2" rx="0.5"/>
<rect x="567.9" y="740.3" width="6.5" height="6.2" rx="0.5"/>
<rect x="576.4" y="740.3" width="6.5" height="6.2" rx="0.5"/>
<rect x="584.8" y="740.3" width="6.5" height="6.2" rx="0.5"/>
<rect x="593.3" y="740.3" width="6.5" height="6.2" rx="0.5"/>
<rect x="601.8" y="740.3" width="6.5" height="6.2" rx="0.5"/>
<rect x="610.2" y="740.3" width="6.5" height="6.2" rx="0.5"/>
<rect x="618.7" y="740.3" width="6.5" height="6.2" rx="0.5"/>
<rect x="627.2" y="740.3" width="6.5" height="6.2" rx="0.5"/>
<rect x="635.6" y="740.3" width="6.5" height="6.2" rx="0.5"/>
<rect x="545.0" y="748.6" width="6.3" height="6.5" rx="0.5"/>
<rect x="553.3" y="748.6" width="6.3" height="6.5" rx="0.5"/>
<rect x="561.5" y="748.6" width="6.3" height="6.5" rx="0.5"/>
<rect x="569.8" y="748.6" width="6.3" height="6.5" rx="0.5"/>
<rect x="578.0" y="748.6" width="6.3" height="6.5" rx="0.5"/>
<rect x="586.3" y="748.6" width="6.3" height="6.5" rx="0.5"/>
<rect x="594.5" y="748.6" width="6.3" height="6.5" rx="0.5"/>
<rect x="602.8" y="748.6" width="6.3" height="6.5" rx="0.5"/>
<rect x="611.1" y="748.6" width="6.3" height="6.5" rx="0.5"/>
<rect x="619.3" y="748.6" width="6.3" height="6.5" rx="0.5"/>
<rect x="627.6" y="748.6" width="6.3" height="6.5" rx="0.5"/>
<rect x="635.8" y="748.6" width="6.3" height="6.5" rx="0.5"/>
<rect x="546.5" y="757.2" width="6.1" height="6.4" rx="0.5"/>
<rect x="554.6" y="757.2" width="6.1" height="6.4" rx="0.5"/>
<rect x="562.8" y="757.2" width="6.1" height="6.4" rx="0.5"/>
<rect x="570.9" y="757.2" width="6.1" height="6.4" rx="0.5"/>
<rect x="579.0" y="757.2" width="6.1" height="6.4" rx="0.5"/>
<rect x="587.2" y="757.2" width="6.1" height="6.4" rx="0.5"/>
<rect x="595.3" y="757.2" width="6.1" height="6.4" rx="0.5"/>
<rect x="603.4" y="757.2" width="6.1" height="6.4" rx="0.5"/>
<rect x="611.6" y="757.2" width="6.1" height="6.4" rx="0.5"/>
<rect x="619.7" y="757.2" width="6.1" height="6.4" rx="0.5"/>
<rect x="627.8" y="757.2" width="6.1" height="6.4" rx="0.5"/>
<rect x="636.0" y="757.2" width="6.1" height="6.4" rx="0.5"/>
<rect x="543.7" y="765.6" width="6.4" height="6.2" rx="0.5"/>
<rect x="552.1" y="765.6" width="6.4" height="6.2" rx="0.5"/>
<rect x="560.4" y="765.6" width="6.4" height="6.2" rx="0.5"/>
<rect x="568.8" y="765.6" width="6.4" height="6.2" rx="0.5"/>
<rect x="577.2" y="765.6" width="6.4" height="6.2" rx="0.5"/>
<rect x="585.5" y="765.6" width="6.4" height="6.2" rx="0.5"/>
<rect x="593.9" y="765.6" width="6.4" height="6.2" rx="0.5"/>
<rect x="602.3" y="765.6" width="6.4" height="6.2" rx="0.5"/>
<rect x="610.6" y="765.6" width="6.4" height="6.2" rx="0.5"/>
<rect x="619.0" y="765.6" width="6.4" height="6.2" rx="0.5"/>
<rect x="627.4" y="765.6" width="6.4" height="6.2" rx="0.5"/>
<rect x="635.7" y="765.6" width="6.4" height="6.2" rx="0.5"/>
<rect x="542.5" y="773.6" width="4.4" height="4.2" rx="0.5"/>
<rect x="548.9" y="773.6" width="4.4" height="4.2" rx="0.5"/>
<rect x="555.3" y="773.6" width="4.4" height="4.2" rx="0.5"/>
<rect x="561.7" y="773.6" width="4.4" height="4.2" rx="0.5"/>
<rect x="568.1" y="773.6" width="4.4" height="4.2" rx="0.5"/>
<rect x="574.5" y="773.6" width="30" height="4.2" rx="0.5"/>
<rect x="607.0" y="773.6" width="4.4" height="4.2" rx="0.5"/>
<rect x="613.4" y="773.6" width="4.4" height="4.2" rx="0.5"/>
<rect x="619.8" y="773.6" width="4.4" height="4.2" rx="0.5"/>
<rect x="626.2" y="773.6" width="4.4" height="4.2" rx="0.5"/>
<rect x="632.6" y="773.6" width="4.4" height="4.2" rx="0.5"/>
<rect x="639.0" y="773.6" width="4.4" height="4.2" rx="0.5"/>
<rect x="645.4" y="773.6" width="4.4" height="4.2" rx="0.5"/>
<rect x="651.8" y="773.6" width="4.4" height="4.2" rx="0.5"/>
</g>
<g stroke="#111" stroke-width="1.3" fill="none">
<line x1="112.2" y1="884.7" x2="112.2" y2="1152.0"/>
<line x1="153.4" y1="884.7" x2="153.4" y2="1152.0"/>
<line x1="194.6" y1="884.7" x2="194.6" y2="1152.0"/>
<line x1="235.8" y1="884.7" x2="235.8" y2="1152.0"/>
<line x1="277.0" y1="884.7" x2="277.0" y2="1062.9"/>
<line x1="277.0" y1="1107.5" x2="277.0" y2="1152.0"/>
<line x1="318.2" y1="884.7" x2="318.2" y2="1152.0"/>
<line x1="359.4" y1="884.7" x2="359.4" y2="1152.0"/>
<line x1="400.6" y1="884.7" x2="400.6" y2="1152.0"/>
<line x1="112.2" y1="884.7" x2="400.6" y2="884.7"/>
<line x1="112.2" y1="929.2" x2="400.6" y2="929.2"/>
<line x1="112.2" y1="973.8" x2="400.6" y2="973.8"/>
<line x1="112.2" y1="1018.4" x2="400.6" y2="1018.4"/>
<line x1="112.2" y1="1062.9" x2="400.6" y2="1062.9"/>
<line x1="112.2" y1="1107.5" x2="400.6" y2="1107.5"/>
<line x1="112.2" y1="1152.0" x2="400.6" y2="1152.0"/>
</g>
<path d="M153.4,1077.1 L400.6,907.6" stroke="#f00" stroke-width="1.4" fill="none"/>
<text x="248.3" y="1082.6" font-family="'Liberation Sans', sans-serif" font-size="14.5" textLength="55.0" lengthAdjust="spacing" fill="#000"  stroke="#000" stroke-width="0.25">Temp 25</text>
<circle cx="307.6" cy="1074.3" r="1.7" fill="none" stroke="#000" stroke-width="1.3"/>
<text x="248.3" y="1099.4" font-family="'Liberation Sans', sans-serif" font-size="14.5" textLength="51.7" lengthAdjust="spacing" fill="#000"  stroke="#000" stroke-width="0.25">at 30cm</text>
<text x="146.7" y="1180.5" font-family="'Liberation Serif', serif" font-size="20" textLength="9.2" lengthAdjust="spacingAndGlyphs" fill="#111" >6</text>
<text x="189.3" y="1180.5" font-family="'Liberation Serif', serif" font-size="20" textLength="9.2" lengthAdjust="spacingAndGlyphs" fill="#111" >9</text>
<text x="228.5" y="1180.5" font-family="'Liberation Serif', serif" font-size="20" textLength="16.5" lengthAdjust="spacingAndGlyphs" fill="#111" >12</text>
<text x="267.0" y="1180.5" font-family="'Liberation Serif', serif" font-size="20" textLength="18.3" lengthAdjust="spacingAndGlyphs" fill="#111" >15</text>
<text x="308.0" y="1180.5" font-family="'Liberation Serif', serif" font-size="20" textLength="18.4" lengthAdjust="spacingAndGlyphs" fill="#111" >18</text>
<text x="348.8" y="1180.5" font-family="'Liberation Serif', serif" font-size="20" textLength="18.3" lengthAdjust="spacingAndGlyphs" fill="#111" >24</text>
<text x="384.2" y="1178.9" font-family="'Liberation Serif', serif" font-size="21" textLength="18.0" lengthAdjust="spacingAndGlyphs" fill="#111" >28</text>
<text x="407.3" y="1177.8" font-family="'Liberation Serif', serif" font-size="20.5" textLength="4.6" lengthAdjust="spacingAndGlyphs" fill="#111" >(</text>
<text x="409.3" y="1179.3" font-family="'Liberation Serif', serif" font-size="21" textLength="9.4" lengthAdjust="spacingAndGlyphs" fill="#111" >V</text>
<text x="423.6" y="1179.3" font-family="'Liberation Serif', serif" font-size="21" textLength="9.7" lengthAdjust="spacingAndGlyphs" fill="#111" >D</text>
<text x="436.9" y="1179.3" font-family="'Liberation Serif', serif" font-size="21" textLength="9.3" lengthAdjust="spacingAndGlyphs" fill="#111" >C</text>
<text x="450.2" y="1177.8" font-family="'Liberation Serif', serif" font-size="20.5" textLength="4.9" lengthAdjust="spacingAndGlyphs" fill="#111" >)</text>
<text x="73.3" y="933.8" font-family="'Liberation Serif', serif" font-size="20" textLength="20.5" lengthAdjust="spacingAndGlyphs" fill="#111" >95</text>
<text x="73.3" y="978.2" font-family="'Liberation Serif', serif" font-size="20" textLength="20.5" lengthAdjust="spacingAndGlyphs" fill="#111" >90</text>
<text x="73.3" y="1024.2" font-family="'Liberation Serif', serif" font-size="20" textLength="20.5" lengthAdjust="spacingAndGlyphs" fill="#111" >85</text>
<text x="73.3" y="1069.3" font-family="'Liberation Serif', serif" font-size="20" textLength="20.5" lengthAdjust="spacingAndGlyphs" fill="#111" >80</text>
<text x="73.3" y="1113.3" font-family="'Liberation Serif', serif" font-size="20" textLength="20.5" lengthAdjust="spacingAndGlyphs" fill="#111" >75</text>
<g stroke="#111" stroke-width="1.3" fill="none">
<line x1="498.6" y1="884.7" x2="498.6" y2="1152.0"/>
<line x1="539.8" y1="884.7" x2="539.8" y2="1152.0"/>
<line x1="581.0" y1="884.7" x2="581.0" y2="1152.0"/>
<line x1="622.2" y1="884.7" x2="622.2" y2="1152.0"/>
<line x1="663.4" y1="884.7" x2="663.4" y2="1062.9"/>
<line x1="663.4" y1="1107.5" x2="663.4" y2="1152.0"/>
<line x1="704.6" y1="884.7" x2="704.6" y2="1152.0"/>
<line x1="745.8" y1="884.7" x2="745.8" y2="1152.0"/>
<line x1="787.0" y1="884.7" x2="787.0" y2="1152.0"/>
<line x1="498.6" y1="884.7" x2="787.0" y2="884.7"/>
<line x1="498.6" y1="929.2" x2="787.0" y2="929.2"/>
<line x1="498.6" y1="973.8" x2="787.0" y2="973.8"/>
<line x1="498.6" y1="1018.4" x2="787.0" y2="1018.4"/>
<line x1="498.6" y1="1062.9" x2="787.0" y2="1062.9"/>
<line x1="498.6" y1="1107.5" x2="787.0" y2="1107.5"/>
<line x1="498.6" y1="1152.0" x2="787.0" y2="1152.0"/>
</g>
<path d="M539.8,1072.3 Q660,1010 787,968.5" stroke="#f00" stroke-width="1.4" fill="none"/>
<text x="634.7" y="1082.6" font-family="'Liberation Sans', sans-serif" font-size="14.5" textLength="55.0" lengthAdjust="spacing" fill="#000"  stroke="#000" stroke-width="0.25">Temp 25</text>
<circle cx="694.0" cy="1074.3" r="1.7" fill="none" stroke="#000" stroke-width="1.3"/>
<text x="634.7" y="1099.4" font-family="'Liberation Sans', sans-serif" font-size="14.5" textLength="51.7" lengthAdjust="spacing" fill="#000"  stroke="#000" stroke-width="0.25">at 30cm</text>
<text x="533.1" y="1180.5" font-family="'Liberation Serif', serif" font-size="20" textLength="9.2" lengthAdjust="spacingAndGlyphs" fill="#111" >6</text>
<text x="575.7" y="1180.5" font-family="'Liberation Serif', serif" font-size="20" textLength="9.2" lengthAdjust="spacingAndGlyphs" fill="#111" >9</text>
<text x="614.9" y="1180.5" font-family="'Liberation Serif', serif" font-size="20" textLength="16.5" lengthAdjust="spacingAndGlyphs" fill="#111" >12</text>
<text x="653.4" y="1180.5" font-family="'Liberation Serif', serif" font-size="20" textLength="18.3" lengthAdjust="spacingAndGlyphs" fill="#111" >15</text>
<text x="694.4" y="1180.5" font-family="'Liberation Serif', serif" font-size="20" textLength="18.4" lengthAdjust="spacingAndGlyphs" fill="#111" >18</text>
<text x="735.2" y="1180.5" font-family="'Liberation Serif', serif" font-size="20" textLength="18.3" lengthAdjust="spacingAndGlyphs" fill="#111" >24</text>
<text x="770.6" y="1178.9" font-family="'Liberation Serif', serif" font-size="21" textLength="18.0" lengthAdjust="spacingAndGlyphs" fill="#111" >28</text>
<text x="793.7" y="1177.8" font-family="'Liberation Serif', serif" font-size="20.5" textLength="4.6" lengthAdjust="spacingAndGlyphs" fill="#111" >(</text>
<text x="795.7" y="1179.3" font-family="'Liberation Serif', serif" font-size="21" textLength="9.4" lengthAdjust="spacingAndGlyphs" fill="#111" >V</text>
<text x="810.0" y="1179.3" font-family="'Liberation Serif', serif" font-size="21" textLength="9.7" lengthAdjust="spacingAndGlyphs" fill="#111" >D</text>
<text x="823.3" y="1179.3" font-family="'Liberation Serif', serif" font-size="21" textLength="9.3" lengthAdjust="spacingAndGlyphs" fill="#111" >C</text>
<text x="836.6" y="1177.8" font-family="'Liberation Serif', serif" font-size="20.5" textLength="4.9" lengthAdjust="spacingAndGlyphs" fill="#111" >)</text>
<text x="462.6" y="940.0" font-family="'Liberation Serif', serif" font-size="20" textLength="20.1" lengthAdjust="spacingAndGlyphs" fill="#111" >25</text>
<text x="462.6" y="984.0" font-family="'Liberation Serif', serif" font-size="20" textLength="20.1" lengthAdjust="spacingAndGlyphs" fill="#111" >20</text>
<text x="465.6" y="1026.5" font-family="'Liberation Serif', serif" font-size="20" textLength="17.3" lengthAdjust="spacingAndGlyphs" fill="#111" >15</text>
<text x="463.8" y="1068.0" font-family="'Liberation Serif', serif" font-size="20" textLength="19.4" lengthAdjust="spacingAndGlyphs" fill="#111" >10</text>
<text x="463.2" y="1112.0" font-family="'Liberation Serif', serif" font-size="20" textLength="9.7" lengthAdjust="spacingAndGlyphs" fill="#111" >5</text>
<text x="71.1" y="893.3" font-family="'Liberation Serif', serif" font-size="20.5" textLength="5.0" lengthAdjust="spacingAndGlyphs" fill="#111" >(</text>
<text x="72.8" y="893.3" font-family="'Liberation Serif', serif" font-size="20" textLength="19.4" lengthAdjust="spacingAndGlyphs" fill="#111" >dB</text>
<text x="96.1" y="893.3" font-family="'Liberation Serif', serif" font-size="20.5" textLength="5.8" lengthAdjust="spacingAndGlyphs" fill="#111" >)</text>
<text x="451.4" y="894.8" font-family="'Liberation Serif', serif" font-size="20.5" textLength="5.6" lengthAdjust="spacingAndGlyphs" fill="#111" >(</text>
<text x="455.3" y="894.8" font-family="'Liberation Serif', serif" font-size="20" textLength="10.5" lengthAdjust="spacingAndGlyphs" fill="#111" >m</text>
<text x="468.9" y="894.8" font-family="'Liberation Serif', serif" font-size="20.5" textLength="10.0" lengthAdjust="spacingAndGlyphs" fill="#111" >A</text>
<text x="483.3" y="894.8" font-family="'Liberation Serif', serif" font-size="20.5" textLength="5.6" lengthAdjust="spacingAndGlyphs" fill="#111" >)</text>
<text x="229.8" y="856.8" font-family="'Liberation Serif', serif" font-size="25" textLength="26.2" lengthAdjust="spacingAndGlyphs" fill="#111" >dB</text>
<text x="270.7" y="856.8" font-family="'Liberation Serif', serif" font-size="25" textLength="10.6" lengthAdjust="spacingAndGlyphs" fill="#111" >V</text>
<rect x="260.4" y="845.2" width="12" height="3.1" fill="#000"/>
<text x="615.2" y="856.8" font-family="'Liberation Serif', serif" font-size="28" textLength="14.2" lengthAdjust="spacingAndGlyphs" fill="#111" >m</text>
<text x="636.6" y="856.8" font-family="'Liberation Serif', serif" font-size="25" textLength="13.3" lengthAdjust="spacingAndGlyphs" fill="#111" >A</text>
<text x="665.4" y="856.8" font-family="'Liberation Serif', serif" font-size="25" textLength="10.7" lengthAdjust="spacingAndGlyphs" fill="#111" >V</text>
<rect x="655.7" y="845.2" width="11.5" height="3.1" fill="#000"/>
<text x="765.0" y="1292.7" font-family="'Liberation Serif', serif" font-size="15" textLength="69.3" lengthAdjust="spacingAndGlyphs" fill="#111" >FSD-3635L</text>
<line x1="765" y1="1295.2" x2="834.5" y2="1295.2" stroke="#000" stroke-width="1.3"/>
<g fill="#e0e0e0" style="mix-blend-mode:multiply">
<text x="0" y="18" font-family="'Liberation Serif', serif" font-size="52" font-weight="bold" text-anchor="middle" transform="translate(360.2,53.5) rotate(-42) scale(0.86,1.09)">FUET</text>
<text x="0" y="18" font-family="'Liberation Serif', serif" font-size="52" font-weight="bold" text-anchor="middle" transform="translate(632.8,58.0) rotate(-42) scale(0.86,1.09)">FUET</text>
<text x="0" y="18" font-family="'Liberation Serif', serif" font-size="52" font-weight="bold" text-anchor="middle" transform="translate(905.4,62.5) rotate(-42) scale(0.86,1.09)">FUET</text>
<text x="0" y="18" font-family="'Liberation Serif', serif" font-size="52" font-weight="bold" text-anchor="middle" transform="translate(-46.2,184.1) rotate(-42) scale(0.86,1.09)">FUET</text>
<text x="0" y="18" font-family="'Liberation Serif', serif" font-size="52" font-weight="bold" text-anchor="middle" transform="translate(226.5,188.6) rotate(-42) scale(0.86,1.09)">FUET</text>
<text x="0" y="18" font-family="'Liberation Serif', serif" font-size="52" font-weight="bold" text-anchor="middle" transform="translate(499.1,193.1) rotate(-42) scale(0.86,1.09)">FUET</text>
<text x="0" y="18" font-family="'Liberation Serif', serif" font-size="52" font-weight="bold" text-anchor="middle" transform="translate(771.6,197.6) rotate(-42) scale(0.86,1.09)">FUET</text>
<text x="0" y="18" font-family="'Liberation Serif', serif" font-size="52" font-weight="bold" text-anchor="middle" transform="translate(92.7,319.2) rotate(-42) scale(0.86,1.09)">FUET</text>
<text x="0" y="18" font-family="'Liberation Serif', serif" font-size="52" font-weight="bold" text-anchor="middle" transform="translate(365.3,323.7) rotate(-42) scale(0.86,1.09)">FUET</text>
<text x="0" y="18" font-family="'Liberation Serif', serif" font-size="52" font-weight="bold" text-anchor="middle" transform="translate(637.9,328.2) rotate(-42) scale(0.86,1.09)">FUET</text>
<text x="0" y="18" font-family="'Liberation Serif', serif" font-size="52" font-weight="bold" text-anchor="middle" transform="translate(910.5,332.7) rotate(-42) scale(0.86,1.09)">FUET</text>
<text x="0" y="18" font-family="'Liberation Serif', serif" font-size="52" font-weight="bold" text-anchor="middle" transform="translate(-41.1,454.3) rotate(-42) scale(0.86,1.09)">FUET</text>
<text x="0" y="18" font-family="'Liberation Serif', serif" font-size="52" font-weight="bold" text-anchor="middle" transform="translate(231.6,458.8) rotate(-42) scale(0.86,1.09)">FUET</text>
<text x="0" y="18" font-family="'Liberation Serif', serif" font-size="52" font-weight="bold" text-anchor="middle" transform="translate(504.1,463.3) rotate(-42) scale(0.86,1.09)">FUET</text>
<text x="0" y="18" font-family="'Liberation Serif', serif" font-size="52" font-weight="bold" text-anchor="middle" transform="translate(776.8,467.8) rotate(-42) scale(0.86,1.09)">FUET</text>
<text x="0" y="18" font-family="'Liberation Serif', serif" font-size="52" font-weight="bold" text-anchor="middle" transform="translate(97.8,589.4) rotate(-42) scale(0.86,1.09)">FUET</text>
<text x="0" y="18" font-family="'Liberation Serif', serif" font-size="52" font-weight="bold" text-anchor="middle" transform="translate(370.4,593.9) rotate(-42) scale(0.86,1.09)">FUET</text>
<text x="0" y="18" font-family="'Liberation Serif', serif" font-size="52" font-weight="bold" text-anchor="middle" transform="translate(643.0,598.4) rotate(-42) scale(0.86,1.09)">FUET</text>
<text x="0" y="18" font-family="'Liberation Serif', serif" font-size="52" font-weight="bold" text-anchor="middle" transform="translate(915.6,602.9) rotate(-42) scale(0.86,1.09)">FUET</text>
<text x="0" y="18" font-family="'Liberation Serif', serif" font-size="52" font-weight="bold" text-anchor="middle" transform="translate(-36.0,724.5) rotate(-42) scale(0.86,1.09)">FUET</text>
<text x="0" y="18" font-family="'Liberation Serif', serif" font-size="52" font-weight="bold" text-anchor="middle" transform="translate(236.7,729.0) rotate(-42) scale(0.86,1.09)">FUET</text>
<text x="0" y="18" font-family="'Liberation Serif', serif" font-size="52" font-weight="bold" text-anchor="middle" transform="translate(509.2,733.5) rotate(-42) scale(0.86,1.09)">FUET</text>
<text x="0" y="18" font-family="'Liberation Serif', serif" font-size="52" font-weight="bold" text-anchor="middle" transform="translate(781.9,738.0) rotate(-42) scale(0.86,1.09)">FUET</text>
<text x="0" y="18" font-family="'Liberation Serif', serif" font-size="52" font-weight="bold" text-anchor="middle" transform="translate(102.9,859.6) rotate(-42) scale(0.86,1.09)">FUET</text>
<text x="0" y="18" font-family="'Liberation Serif', serif" font-size="52" font-weight="bold" text-anchor="middle" transform="translate(375.5,864.1) rotate(-42) scale(0.86,1.09)">FUET</text>
<text x="0" y="18" font-family="'Liberation Serif', serif" font-size="52" font-weight="bold" text-anchor="middle" transform="translate(648.1,868.6) rotate(-42) scale(0.86,1.09)">FUET</text>
<text x="0" y="18" font-family="'Liberation Serif', serif" font-size="52" font-weight="bold" text-anchor="middle" transform="translate(920.7,873.1) rotate(-42) scale(0.86,1.09)">FUET</text>
<text x="0" y="18" font-family="'Liberation Serif', serif" font-size="52" font-weight="bold" text-anchor="middle" transform="translate(-30.9,994.7) rotate(-42) scale(0.86,1.09)">FUET</text>
<text x="0" y="18" font-family="'Liberation Serif', serif" font-size="52" font-weight="bold" text-anchor="middle" transform="translate(241.8,999.2) rotate(-42) scale(0.86,1.09)">FUET</text>
<text x="0" y="18" font-family="'Liberation Serif', serif" font-size="52" font-weight="bold" text-anchor="middle" transform="translate(514.4,1003.7) rotate(-42) scale(0.86,1.09)">FUET</text>
<text x="0" y="18" font-family="'Liberation Serif', serif" font-size="52" font-weight="bold" text-anchor="middle" transform="translate(787.0,1008.2) rotate(-42) scale(0.86,1.09)">FUET</text>
<text x="0" y="18" font-family="'Liberation Serif', serif" font-size="52" font-weight="bold" text-anchor="middle" transform="translate(108.0,1129.8) rotate(-42) scale(0.86,1.09)">FUET</text>
<text x="0" y="18" font-family="'Liberation Serif', serif" font-size="52" font-weight="bold" text-anchor="middle" transform="translate(380.6,1134.3) rotate(-42) scale(0.86,1.09)">FUET</text>
<text x="0" y="18" font-family="'Liberation Serif', serif" font-size="52" font-weight="bold" text-anchor="middle" transform="translate(653.2,1138.8) rotate(-42) scale(0.86,1.09)">FUET</text>
<text x="0" y="18" font-family="'Liberation Serif', serif" font-size="52" font-weight="bold" text-anchor="middle" transform="translate(-25.8,1264.9) rotate(-42) scale(0.86,1.09)">FUET</text>
<text x="0" y="18" font-family="'Liberation Serif', serif" font-size="52" font-weight="bold" text-anchor="middle" transform="translate(246.8,1269.4) rotate(-42) scale(0.86,1.09)">FUET</text>
<text x="0" y="18" font-family="'Liberation Serif', serif" font-size="52" font-weight="bold" text-anchor="middle" transform="translate(519.5,1273.9) rotate(-42) scale(0.86,1.09)">FUET</text>
</g>
</svg></body></html>
